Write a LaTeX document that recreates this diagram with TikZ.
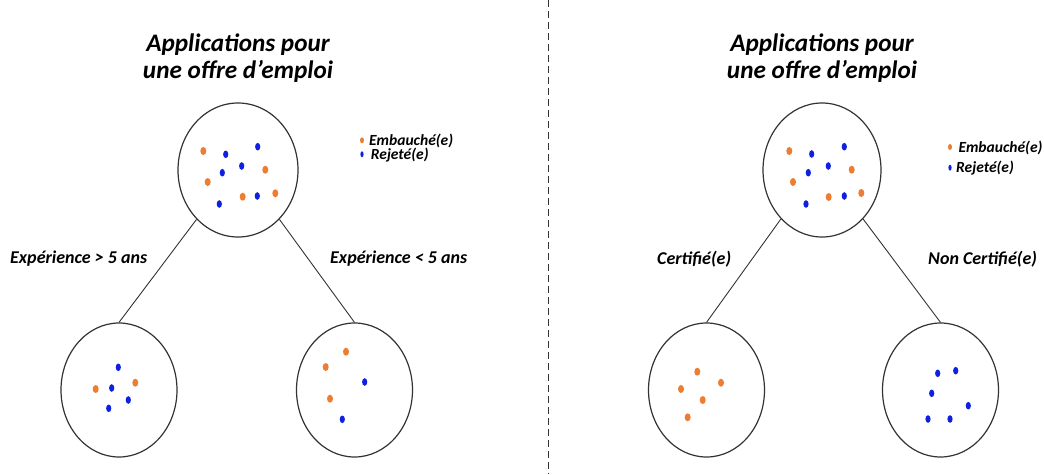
\documentclass[tikz,border=0pt]{standalone}
\usepackage{fontspec}
\setmainfont{Carlito}
\usepackage{tikz}
\usetikzlibrary{shapes.geometric}
\definecolor{embauche}{HTML}{ED7D31}
\definecolor{rejete}{HTML}{1020E0}
\definecolor{trait}{HTML}{333333}

\begin{document}
\begin{tikzpicture}[x=1pt, y=-1pt,
    groupe/.style={ellipse, draw=trait, line width=1.2pt, inner sep=0pt, minimum width=116pt, minimum height=134pt},
    titre/.style={font=\fontsize{25.2}{29}\selectfont\bfseries\itshape, inner sep=0pt, anchor=base},
    critere/.style={font=\fontsize{18}{21}\selectfont\bfseries\itshape, inner sep=0pt, anchor=base west},
    legende/.style={font=\fontsize{15.5}{18}\selectfont\bfseries\itshape, inner sep=0pt, anchor=west},
    branche/.style={draw=trait, line width=0.9pt}]
    \useasboundingbox (0,0) rectangle (1044,474);

    % separation
    \draw[trait, line width=0.9pt, dash pattern=on 7pt off 4pt] (548.5,0) -- (548.5,474);

    % arbre de gauche
    \node[titre] (titreA1) at (238,51.7) {Applications pour};
    \node[titre] (titreA2) at (238,78.3) {une offre d’emploi};
    \node[groupe, minimum width=120pt] (racineA) at (238,170) {};
    \node[groupe] (gaucheA) at (119,390) {};
    \node[groupe] (droiteA) at (354.5,390) {};
    \draw[branche] (racineA.230) -- (gaucheA.north);
    \draw[branche] (racineA.310) -- (droiteA.north);
    \node[critere] (critereA1) at (10,263.3) {Expérience > 5 ans};
    \node[critere] (critereA2) at (330,263.3) {Expérience < 5 ans};

    \fill[embauche] (362,140.3) ellipse (2 and 3);
    \fill[rejete] (362,154.3) ellipse (1.6 and 3);
    \node[legende] (legendeA1) at (369,140.7) {Embauché(e)};
    \node[legende] (legendeA2) at (370.7,154.7) {Rejeté(e)};

    \foreach \x/\y in {203.3/151, 265.3/169.7, 207.7/182, 242.7/196.7, 275.3/193.3,
                       95.7/389, 135.3/382.7, 346/351.7, 325.7/367, 330/398.7}
      \fill[embauche] (\x,\y) ellipse (3 and 4);
    \foreach \x/\y in {225.7/154.3, 257.7/146.7, 241.7/166, 222.3/172.7, 257.3/196, 219.3/204,
                       118.3/367.3, 111.7/388, 128.3/400, 108.7/408.3, 364.7/382, 342.3/419.3}
      \fill[rejete] (\x,\y) ellipse (2.6 and 3.8);

    % arbre de droite
    \node[titre] (titreB1) at (822,51.7) {Applications pour};
    \node[titre] (titreB2) at (822,78.3) {une offre d’emploi};
    \node[groupe, minimum width=118pt] (racineB) at (822,170) {};
    \node[groupe] (gaucheB) at (706.5,390) {};
    \node[groupe] (droiteB) at (940.5,390) {};
    \draw[branche] (racineB.230) -- (gaucheB.north);
    \draw[branche] (racineB.310) -- (droiteB.north);
    \node[critere] (critereB1) at (657,264) {Certifié(e)};
    \node[critere] (critereB2) at (928,264) {Non Certifié(e)};

    \fill[embauche] (950,147) ellipse (2 and 3);
    \fill[rejete] (950,167.7) ellipse (1.6 and 3);
    \node[legende] (legendeB1) at (958.3,147.7) {Embauché(e)};
    \node[legende] (legendeB2) at (956,167.7) {Rejeté(e)};

    \foreach \x/\y in {789.3/151, 851.7/169.7, 793/182, 828.7/197, 861.3/193,
                       697.3/371.7, 721/382.7, 681/389, 702.7/400, 687.7/417.3}
      \fill[embauche] (\x,\y) ellipse (3 and 4);
    \foreach \x/\y in {811.7/154, 844.3/146.7, 828.3/166, 808.3/172.7, 844.3/196, 806/204,
                       937.7/373.3, 955.7/370.7, 931.7/393.3, 968.3/405.7, 928/419, 950/419}
      \fill[rejete] (\x,\y) ellipse (2.6 and 3.8);

\end{tikzpicture}
\end{document}
